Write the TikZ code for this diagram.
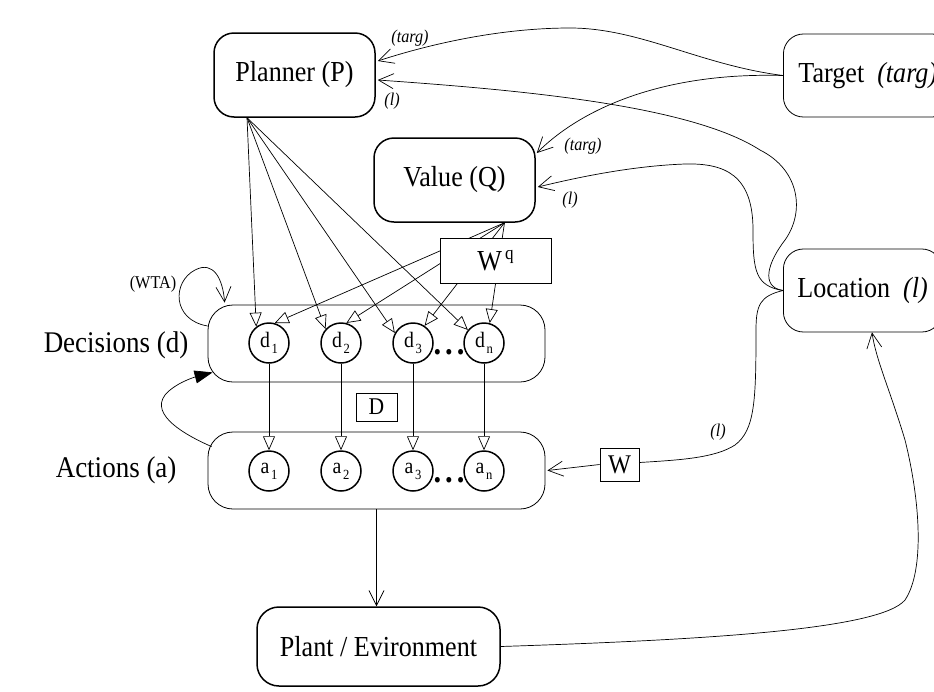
\documentclass[tikz,border=0pt]{standalone}
\usepackage{fontspec}
\setmainfont[FakeStretch=0.9]{Liberation Serif}
\usetikzlibrary{arrows.meta,calc}
\newcommand\ulab[2]{{\fontsize{22}{22}\selectfont #1}\,\raisebox{-6pt}{\fontsize{14}{14}\selectfont #2}}
\tikzset{
  big/.style={font=\fontsize{29}{32}\selectfont},
  side/.style={font=\fontsize{30}{33}\selectfont},
  lab/.style={font=\fontsize{18}{20}\selectfont\itshape, inner sep=0pt},
  thickbox/.style={draw, line width=1.5pt, rounded corners=20pt, big},
  thinbox/.style={draw, line width=0.8pt, rounded corners=20pt, big},
  container/.style={draw, line width=0.8pt, rounded corners=25pt, minimum width=337pt, minimum height=77pt},
  unit/.style={circle, draw, line width=1.5pt, minimum size=40pt, inner sep=0pt},
  dots/.style={font=\fontsize{34}{34}\selectfont\bfseries, inner sep=0pt},
  conn/.style={line width=0.7pt},
  tri/.style={conn, -{Triangle[length=14pt,width=12pt,fill=white,line width=0.7pt]}},
  barb/.style={conn, -{Straight Barb[length=15pt,width=15pt,line width=0.7pt]}},
  solidtri/.style={conn, -{Triangle[length=18pt,width=13pt]}},
  sqbox/.style={draw, line width=0.8pt, fill=white, inner sep=0pt},
}
\begin{document}
\begin{tikzpicture}[x=1pt,y=-1pt]
\useasboundingbox (0,0) rectangle (934,691);
\clip (0,0) rectangle (934,691);
\fill[white] (0,0) rectangle (934,691);

% main boxes
\node[thickbox, minimum width=161pt, minimum height=84pt] (P) at (294.5,75) {Planner (P)};
\node[thickbox, minimum width=161pt, minimum height=84pt] (Q) at (454.5,180) {Value (Q)};
\node[thinbox, anchor=west, inner xsep=15pt, minimum height=83pt] (T) at (783,75.5) {Target\ \ \textit{(targ)}};
\node[thinbox, anchor=west, inner xsep=14pt, minimum height=83pt] (L) at (783,290.5) {Location\ \ \textit{(l)}};
\node[thickbox, rounded corners=22pt, minimum width=243pt, minimum height=79pt] (PE) at (378.5,646.5) {Plant / Evironment};

% containers
\node[container] (Dc) at (376.5,343.5) {};
\node[container] (Ac) at (376.5,470.5) {};
\node[side, anchor=east] (Dl) at (192,345) {Decisions (d)};
\node[side, anchor=east] (Al) at (180,470) {Actions (a)};

% units
\node[unit] (d1) at (269,343) {\ulab{d}{1}};
\node[unit] (d2) at (341,343) {\ulab{d}{2}};
\node[unit] (d3) at (413,343) {\ulab{d}{3}};
\node[unit] (dn) at (484,343) {\ulab{d}{n}};
\node[unit] (a1) at (269,471) {\ulab{a}{1}};
\node[unit] (a2) at (341,471) {\ulab{a}{2}};
\node[unit] (a3) at (413,471) {\ulab{a}{3}};
\node[unit] (an) at (484,471) {\ulab{a}{n}};
\node[dots] (dd) at (449,352) {.\hspace{4pt}.\hspace{4pt}.};
\node[dots] (ad) at (449,480) {.\hspace{4pt}.\hspace{4pt}.};

% planner -> decisions
\foreach \n/\a in {d1/128, d2/138, d3/151, dn/141}
  \draw[tri] ([xshift=-47.5pt]P.south) -- (\n.\a);
% value -> decisions
\foreach \n/\a in {d1/74, d2/75, d3/56, dn/74}
  \draw[tri] ([xshift=50pt]Q.south) -- (\n.\a);
% decisions -> actions
\foreach \i in {1,2,3,n}
  \draw[tri] (d\i) -- (a\i);

% W^q box on top
\node[sqbox, minimum width=111pt, minimum height=45pt, font=\fontsize{29}{29}\selectfont] (Wq) at (495.5,260.5) {W\hspace{3pt}\raisebox{11pt}{\fontsize{19}{19}\selectfont q}};
\node[sqbox, minimum width=41pt, minimum height=28pt, font=\fontsize{24}{24}\selectfont] (Dm) at (376.5,407) {D};
\node[sqbox, minimum width=39pt, minimum height=33pt, font=\fontsize{27}{27}\selectfont] (W) at (619.5,464.5) {W};

% target -> planner, value
\draw[barb] (T.west) .. controls (700,65) and (640,28) .. (570,28) .. controls (500,28) and (430,44) .. ([xshift=2pt,yshift=14pt]P.east);
\draw[barb] (T.west) .. controls (660,72) and (580,110) .. ([xshift=1pt,yshift=27pt]Q.east);
% location -> value, planner, W
\draw[barb] (L.west) .. controls (755,286) and (753,270) .. (753,230) .. controls (753,175) and (725,163) .. (685,164) .. controls (630,166) and (575,178) .. ([xshift=2pt,yshift=-7pt]Q.east);
\draw[barb] (L.west) .. controls (760,287) and (768,262) .. (785,240) .. controls (805,212) and (800,170) .. (760,150) .. controls (690,105) and (520,90) .. ([xshift=2pt,yshift=-5pt]P.east);
\draw[conn] (L.west) .. controls (760,296) and (756,305) .. (756,330) .. controls (756,400) and (755,430) .. (735,445) .. controls (715,458) and (680,460) .. ([yshift=2pt]W.east);
\draw[barb] (W.west) -- ([xshift=2pt]Ac.east);
% actions -> plant -> location
\draw[barb] (Ac.south) -- (Ac.south |- PE.north);
\draw[barb] (PE.east) .. controls (700,640) and (880,630) .. (905,600) .. controls (925,570) and (920,500) .. (905,440) .. controls (890,390) and (876,360) .. ([xshift=89pt]L.south west);
% WTA loop
\draw[barb] ([yshift=17.5pt]Dc.west) .. controls (172,320) and (172,282) .. (195,270) .. controls (214,260) and (223,280) .. ([xshift=17pt,yshift=2pt]Dc.north west);
% actions -> decisions
\draw[solidtri] ([xshift=4pt,yshift=-15pt]Ac.north west) .. controls (185,435) and (150,415) .. (165,395) .. controls (175,383) and (195,377) .. ([xshift=5pt,yshift=10pt]Dc.south west);

% labels
\node[lab] (l1) at (410,38) {(targ)};
\node[lab] (l2) at (392,101) {(l)};
\node[lab] (l3) at (583,146) {(targ)};
\node[lab] (l4) at (570,200) {(l)};
\node[lab] (l5) at (718,432) {(l)};
\node[lab, font=\fontsize{18}{20}\selectfont] (l6) at (153,284) {(WTA)};
\end{tikzpicture}
\end{document}
